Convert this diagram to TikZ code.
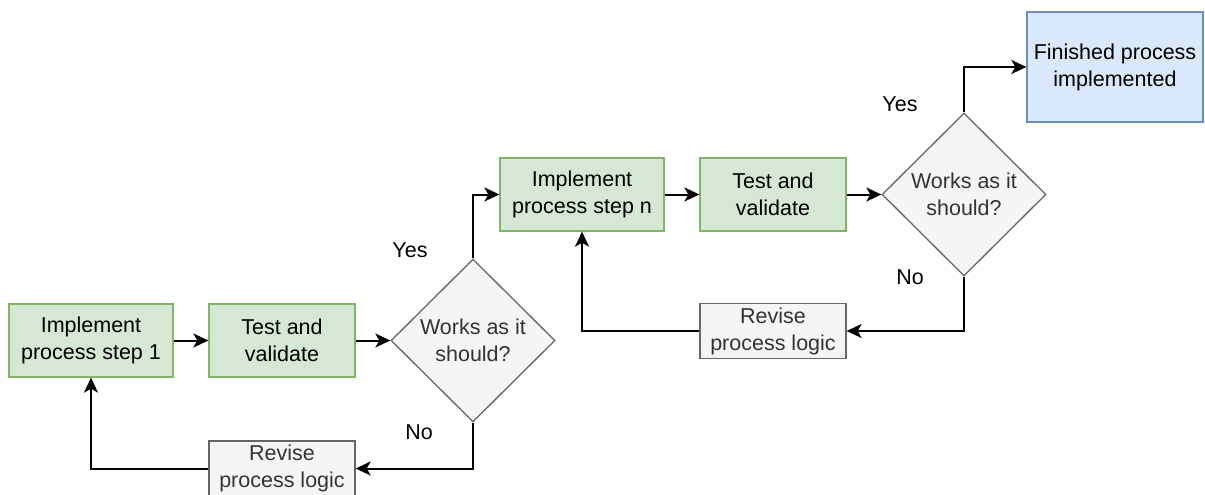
\documentclass[tikz,border=0pt]{standalone}
\usepackage{fontspec}
\setmainfont{Liberation Sans}
\usetikzlibrary{shapes.geometric,arrows.meta}
\definecolor{gfill}{HTML}{D5E8D4}
\definecolor{gline}{HTML}{82B366}
\definecolor{sfill}{HTML}{F5F5F5}
\definecolor{sline}{HTML}{666666}
\definecolor{stext}{HTML}{333333}
\definecolor{bfill}{HTML}{DAE8FC}
\definecolor{bline}{HTML}{6C8EBF}
\tikzset{
  lbl/.style={font=\fontsize{21.5}{27}\selectfont, align=center, inner sep=0pt},
  stepbox/.style={lbl, rectangle, draw=gline, fill=gfill, line width=1.3pt,
    minimum width=164pt, minimum height=73pt},
  revbox/.style={lbl, rectangle, draw=sline, fill=sfill, text=stext, line width=1.3pt,
    minimum width=146pt, minimum height=55pt},
  check/.style={lbl, diamond, draw=sline, fill=sfill, text=stext, line width=1.3pt,
    minimum width=164pt, minimum height=163pt},
  donebox/.style={lbl, rectangle, draw=bline, fill=bfill, line width=1.3pt,
    minimum width=176pt, minimum height=110pt},
  flow/.style={line width=2pt, -{Stealth[length=15pt,width=14pt,inset=4pt]}},
  note/.style={lbl}
}
\begin{document}
\begin{tikzpicture}[x=1pt,y=-1pt]
\useasboundingbox (0,0) rectangle (1205,495);

% first pass
\node[stepbox] (impl1) at (91,340.5) {Implement\\process step 1};
\node[stepbox, minimum width=146pt] (test1) at (282,340.5) {Test and\\validate};
\node[check] (chk1) at (473,340.5) {Works as it\\should?};
\node[revbox] (rev1) at (282,468.5) {Revise\\process logic};

% repeated step
\node[stepbox] (impln) at (582,194.5) {Implement\\process step n};
\node[stepbox, minimum width=146pt] (testn) at (773,194.5) {Test and\\validate};
\node[check] (chkn) at (964,194.5) {Works as it\\should?};
\node[revbox] (rev2) at (773,331) {Revise\\process logic};

% end state
\node[donebox] (done) at (1115,67) {Finished process\\implemented};

% decision labels
\node[note] (yes1) at (410,250) {Yes};
\node[note] (no1) at (419,432) {No};
\node[note] (yes2) at (900,104) {Yes};
\node[note] (no2) at (910,277) {No};

% connectors
\draw[flow] (impl1) -- (test1);
\draw[flow] (test1) -- (chk1);
\draw[flow] (chk1.north) |- (impln.west);
\draw[flow] (chk1.south) |- (rev1.east);
\draw[flow] (rev1.west) -| (impl1.south);
\draw[flow] (impln) -- (testn);
\draw[flow] (testn) -- (chkn);
\draw[flow] (chkn.north) |- (done.west);
\draw[flow] (chkn.south) |- (rev2.east);
\draw[flow] (rev2.west) -| (impln.south);
\end{tikzpicture}
\end{document}
